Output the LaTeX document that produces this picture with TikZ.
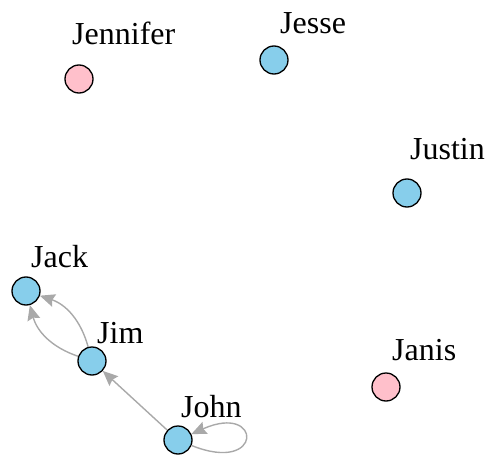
\documentclass[tikz,border=0pt]{standalone}
\usepackage{fontspec}
\setmainfont{Liberation Serif}
\usetikzlibrary{arrows.meta}

\definecolor{vblue}{HTML}{87CEEB}
\definecolor{vpink}{HTML}{FFC0CB}
\definecolor{egray}{HTML}{A9A9A9}

\begin{document}
\begin{tikzpicture}[x = 1pt, y = -1pt,
  vertex/.style = {circle, draw = black, line width = 1.3pt, minimum size = 28pt, inner sep = 0pt},
  lab/.style = {anchor = base west, inner sep = 0pt, font = \fontsize{32}{36}\selectfont},
  tie/.style = {draw = egray, line width = 1.4pt, -{Stealth[length = 15pt, width = 13pt, inset = 2pt]}}]
\useasboundingbox (0, 0) rectangle (488, 455);
%\draw[very thin, color = gray](0, 0) grid[step = 50] (488, 455);
\node [vertex, fill = vpink] (jennifer) at (79, 79) {};
\node [vertex, fill = vblue] (jesse) at (274, 60) {};
\node [vertex, fill = vblue] (justin) at (407, 193) {};
\node [vertex, fill = vblue] (jack) at (26, 291) {};
\node [vertex, fill = vblue] (jim) at (92, 361) {};
\node [vertex, fill = vpink] (janis) at (386, 387) {};
\node [vertex, fill = vblue] (john) at (178, 440) {};
\node [lab] (jennifer-label) at (72, 45) {Jennifer};
\node [lab] (jesse-label) at (280, 33) {Jesse};
\node [lab] (justin-label) at (410, 159) {Justin};
\node [lab] (jack-label) at (31, 267) {Jack};
\node [lab] (jim-label) at (97, 343) {Jim};
\node [lab] (janis-label) at (392, 360) {Janis};
\node [lab] (john-label) at (181, 417) {John};
% ties
\draw [tie] (jim) to [bend right = 28] (jack);
\draw [tie] (jim) to [bend left = 28] (jack);
\draw [tie] (john) -- (jim);
\draw [tie] (john) to [out = -22, in = 24, distance = 78pt] (john);
\end{tikzpicture}
\end{document}
